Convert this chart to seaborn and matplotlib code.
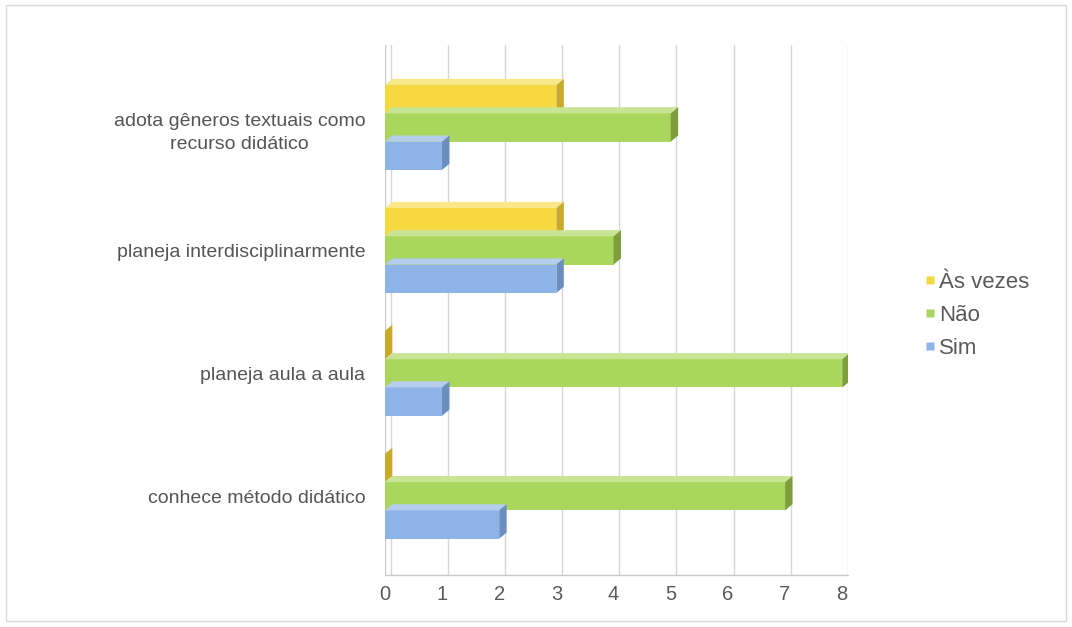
import matplotlib
matplotlib.use("Agg")
import matplotlib.pyplot as plt
from matplotlib.patches import Polygon, Rectangle
from matplotlib.lines import Line2D
import seaborn as sns
import pandas as pd
import numpy as np

categories = [
    "adota gêneros textuais como\nrecurso didático",
    "planeja interdisciplinarmente",
    "planeja aula a aula",
    "conhece método didático",
]
series = ["Às vezes", "Não", "Sim"]
as_vezes = [3, 3, 0, 0]
nao = [5, 4, 8, 7]
sim = [1, 3, 1, 2]
x_ticks = [0, 1, 2, 3, 4, 5, 6, 7, 8]

colors = {"Às vezes": "#F6D940", "Não": "#A9D65C", "Sim": "#8DB3E8"}
side_colors = {"Às vezes": "#C9A92A", "Não": "#7E9E3C", "Sim": "#6A8EC0"}
top_colors = {"Às vezes": "#F9E88A", "Não": "#C8E595", "Sim": "#B5CDEE"}

df = pd.DataFrame({
    "categoria": categories * 3,
    "serie": [s for s in series for _ in categories],
    "valor": as_vezes + nao + sim,
})

sns.set_theme(style="white")
plt.rcParams["font.family"] = ["Liberation Sans", "DejaVu Sans"]

fig = plt.figure(figsize=(10.72, 6.27), dpi=100)
ax = fig.add_axes([0.359, 0.083, 0.432, 0.845])

sns.barplot(data=df, y="categoria", x="valor", hue="serie", order=categories,
            hue_order=series, palette=colors, orient="h", width=0.69,
            saturation=1, ax=ax, legend=False, linewidth=0)

# pseudo-3D faces on each bar
dx, dy = 0.13, 0.05
for container, s in zip(ax.containers, series):
    for p in container:
        x0, y0 = p.get_x(), p.get_y()
        w, h = p.get_width(), p.get_height()
        top = Polygon([(x0, y0), (x0 + dx, y0 - dy), (x0 + w + dx, y0 - dy), (x0 + w, y0)],
                      closed=True, facecolor=top_colors[s], edgecolor="none", zorder=3)
        side = Polygon([(x0 + w, y0), (x0 + w + dx, y0 - dy), (x0 + w + dx, y0 + h - dy), (x0 + w, y0 + h)],
                       closed=True, facecolor=side_colors[s], edgecolor="none", zorder=3)
        ax.add_patch(top)
        ax.add_patch(side)
        p.set_zorder(2)

ax.set_xlim(0, 8.1)
ax.set_ylim(3.64, -0.67)
ax.set_xticks(x_ticks)
ax.set_xticklabels([str(t) for t in x_ticks])
ax.set_xlabel("")
ax.set_ylabel("")

for t in x_ticks:
    ax.axvline(t + 0.1, color="#D6D6D6", lw=1.0, zorder=0)
ax.axvline(0, color="#C8C8C8", lw=1.0, zorder=1)
ax.axhline(3.64, color="#C8C8C8", lw=1.0, zorder=1, clip_on=False)

for sp in ax.spines.values():
    sp.set_visible(False)

ax.tick_params(axis="x", length=0, pad=7, labelsize=14.5, labelcolor="#5A5A5A")
ax.tick_params(axis="y", length=0, pad=14, labelsize=14, labelcolor="#555555")
for lab in ax.get_yticklabels():
    lab.set_horizontalalignment("right")
    lab.set_multialignment("center")
    lab.set_linespacing(1.5)

handles = [Line2D([0], [0], marker="s", color="none", markerfacecolor=colors[s],
                  markeredgecolor="none", markersize=6) for s in series]
fig.legend(handles, series, loc="center left", bbox_to_anchor=(0.844, 0.497),
           frameon=False, fontsize=16, labelcolor="#5A5A5A", handlelength=0.5,
           handletextpad=0.15, labelspacing=0.55)

fig.patches.append(Rectangle((0.006, 0.01), 0.988, 0.982, transform=fig.transFigure,
                             fill=False, edgecolor="#DADADA", lw=1.0))

fig.savefig("out.png", dpi=100, facecolor="white")
